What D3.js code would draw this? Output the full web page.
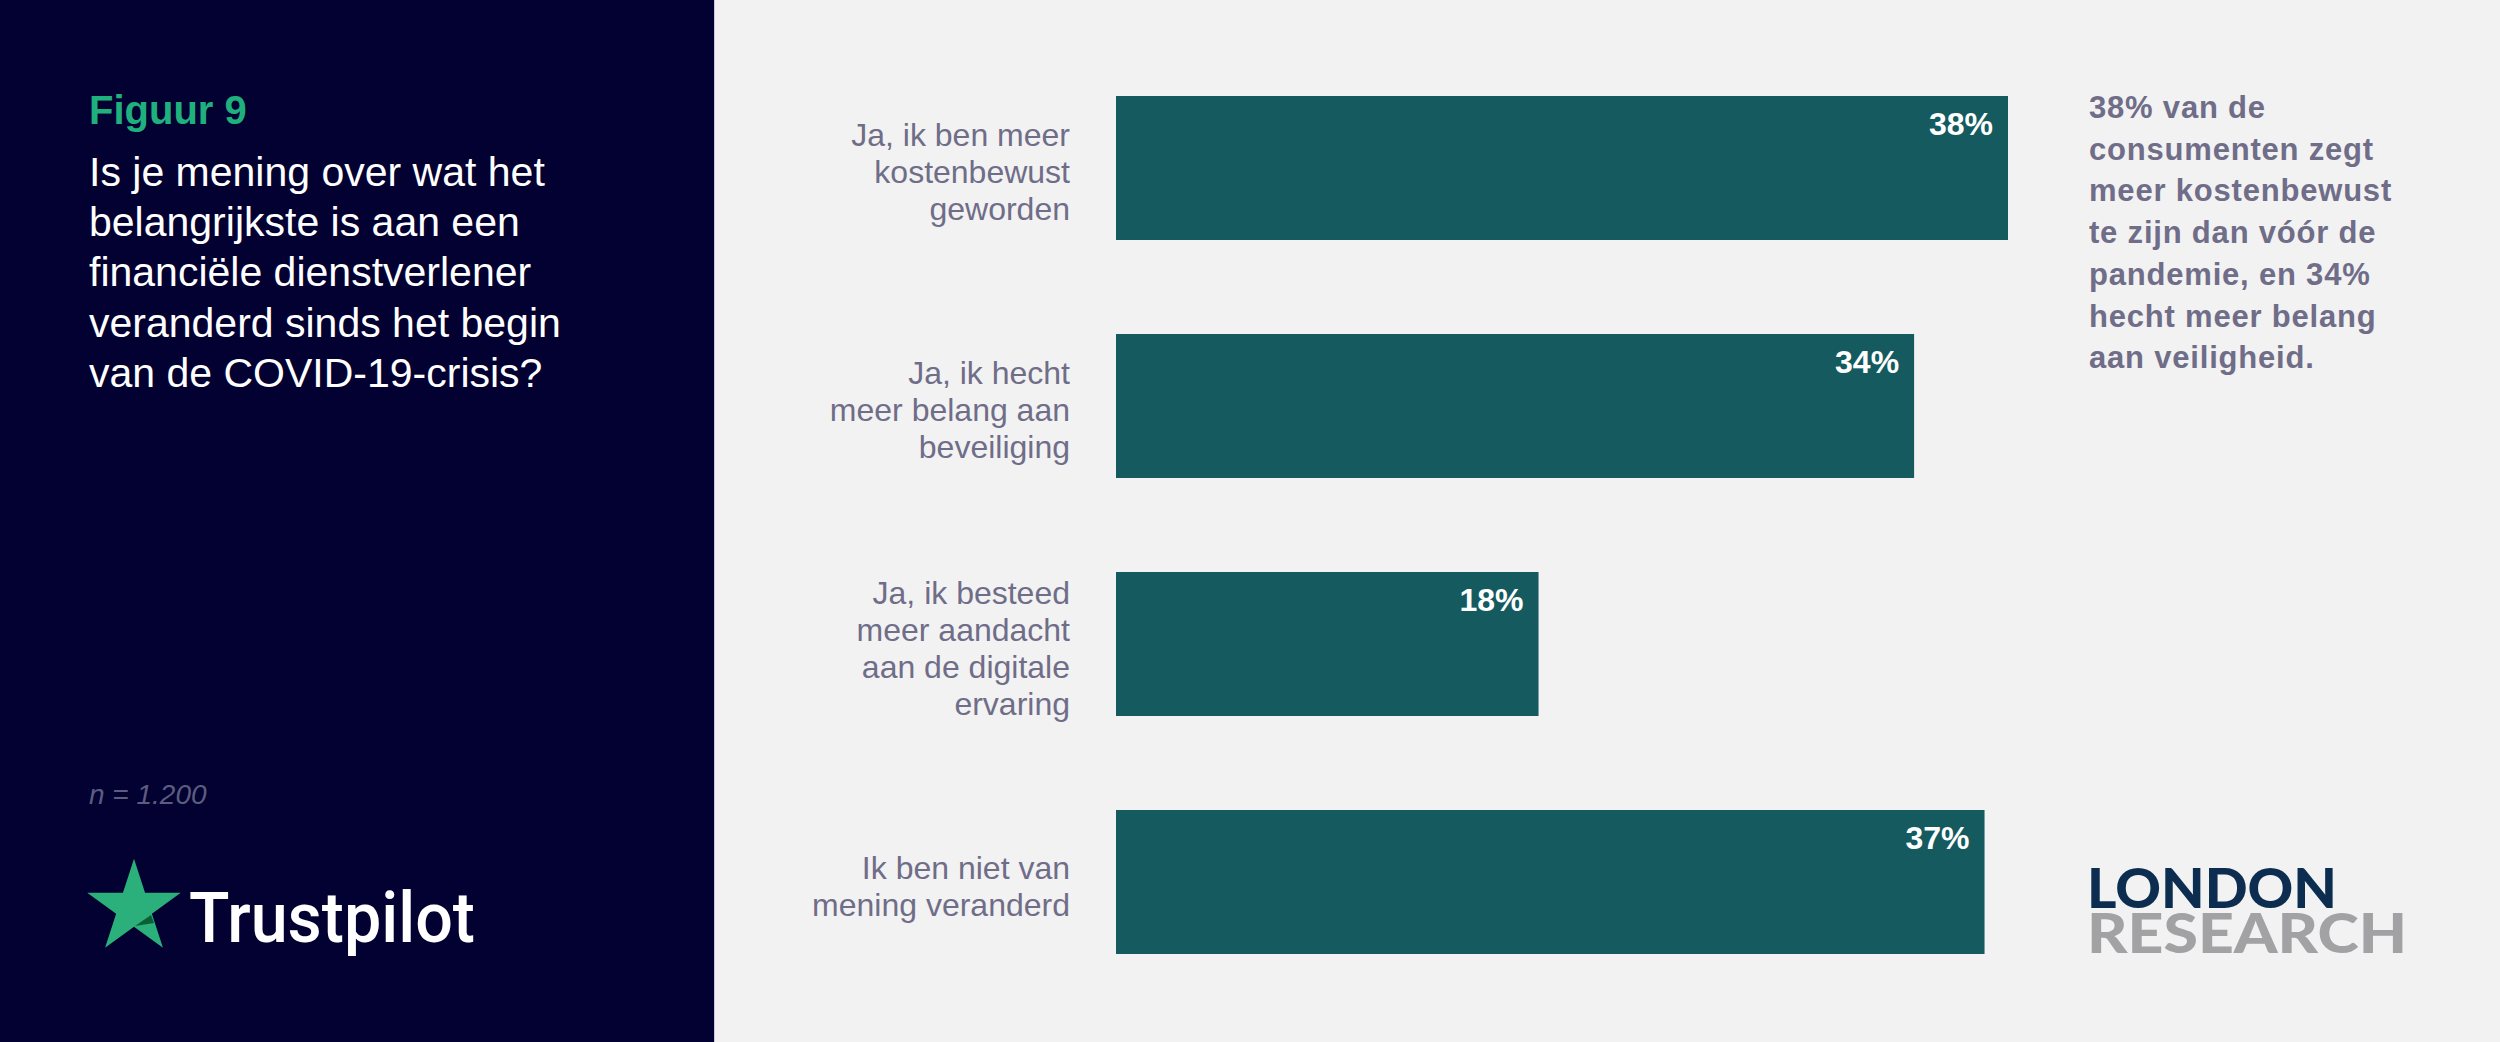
<!DOCTYPE html>
<html>
<head>
<meta charset="utf-8">
<script src="https://cdn.jsdelivr.net/npm/d3@7"></script>
<style>
  html, body { margin: 0; padding: 0; background: #f2f2f2; }
  svg { display: block; }
</style>
</head>
<body>
<div id="chart"></div>
<script>
// ---- Data ----
const categories = [
  "Ja, ik ben meer\nkostenbewust\ngeworden",
  "Ja, ik hecht\nmeer belang aan\nbeveiliging",
  "Ja, ik besteed\nmeer aandacht\naan de digitale\nervaring",
  "Ik ben niet van\nmening veranderd"
];
const values = [38, 34, 18, 37];
const valueLabels = ["38%", "34%", "18%", "37%"];

const figureTitle = "Figuur 9";
const questionLines = [
  "Is je mening over wat het",
  "belangrijkste is aan een",
  "financiële dienstverlener",
  "veranderd sinds het begin",
  "van de COVID-19-crisis?"
];
const sampleText = "n = 1.200";
const calloutLines = [
  "38% van de",
  "consumenten zegt",
  "meer kostenbewust",
  "te zijn dan vóór de",
  "pandemie, en 34%",
  "hecht meer belang",
  "aan veiligheid."
];

// ---- Layout ----
const W = 2500, H = 1042;
const svg = d3.select("#chart").append("svg")
  .attr("width", W).attr("height", H);

svg.append("rect").attr("x", 0).attr("y", 0).attr("width", W).attr("height", H).attr("fill", "#f2f2f2");
svg.append("rect").attr("x", 0).attr("y", 0).attr("width", 714).attr("height", H).attr("fill", "#020131");
svg.append("line").attr("x1", 714.5).attr("x2", 714.5).attr("y1", 0).attr("y2", H)
  .attr("stroke", "#c9c9d8").attr("stroke-width", 1);

const x = d3.scaleLinear().domain([0, 38]).range([1116, 2008]);
const y = d3.scaleBand().domain(categories).range([96, 954]).paddingInner(0.395).paddingOuter(0);

const barColor = "#145a5f";
const labelColor = "#6f6d88";
const font = "'Liberation Sans', Arial, Helvetica, sans-serif";

const g = svg.append("g");
g.selectAll("rect.bar").data(categories).join("rect")
  .attr("class", "bar")
  .attr("x", x(0))
  .attr("y", d => y(d))
  .attr("width", (d, i) => x(values[i]) - x(0))
  .attr("height", y.bandwidth())
  .attr("fill", barColor);

// value labels
g.selectAll("text.val").data(categories).join("text")
  .attr("class", "val")
  .attr("x", (d, i) => x(values[i]) - 15)
  .attr("y", d => y(d) + 39)
  .attr("text-anchor", "end")
  .attr("fill", "#ffffff")
  .attr("font-family", font)
  .attr("font-weight", "bold")
  .attr("font-size", 32)
  .text((d, i) => valueLabels[i]);

// category labels
const lh = 37;
g.selectAll("text.cat").data(categories).join("text")
  .attr("class", "cat")
  .attr("text-anchor", "end")
  .attr("fill", labelColor)
  .attr("font-family", font)
  .attr("font-size", 32)
  .each(function(d) {
    const lines = d.split("\n");
    const cy = y(d) + y.bandwidth() / 2;
    const t = d3.select(this);
    lines.forEach((ln, i) => {
      t.append("tspan")
        .attr("x", 1070)
        .attr("y", cy + (i - (lines.length - 1) / 2) * lh + 15.5)
        .text(ln);
    });
  });

// ---- Left panel ----
svg.append("text")
  .attr("x", 89).attr("y", 124)
  .attr("fill", "#1fb07e")
  .attr("font-family", font).attr("font-weight", "bold").attr("font-size", 40)
  .text(figureTitle);

svg.append("g").selectAll("text").data(questionLines).join("text")
  .attr("x", 89)
  .attr("y", (d, i) => 186 + i * 50.2)
  .attr("fill", "#ffffff")
  .attr("font-family", font).attr("font-size", 41)
  .text(d => d);

svg.append("text")
  .attr("x", 89).attr("y", 804)
  .attr("fill", "#5d5c80")
  .attr("font-family", font).attr("font-style", "italic").attr("font-size", 28)
  .text(sampleText);

// Trustpilot star
const starCx = 134, starCy = 908, R = 49.2, r = R * 0.382;
const starPts = d3.range(10).map(i => {
  const a = -Math.PI / 2 + i * Math.PI / 5;
  const rad = i % 2 === 0 ? R : r;
  return [starCx + rad * Math.cos(a), starCy + rad * Math.sin(a)];
});
svg.append("polygon")
  .attr("points", starPts.map(p => p.join(",")).join(" "))
  .attr("fill", "#2bb07b");
svg.append("polygon")
  .attr("points", "135,926 151,915 154,923")
  .attr("fill", "#0a5f34");

svg.append("text")
  .attr("x", 189).attr("y", 942)
  .attr("fill", "#ffffff")
  .attr("font-family", "Roboto, 'Liberation Sans', Arial, sans-serif")
  .attr("font-weight", 500).attr("font-size", 70)
  .attr("textLength", 286).attr("lengthAdjust", "spacingAndGlyphs")
  .text("Trustpilot");

// ---- Right callout ----
svg.append("g").selectAll("text").data(calloutLines).join("text")
  .attr("x", 2089)
  .attr("y", (d, i) => 118 + i * 41.7)
  .attr("fill", labelColor)
  .attr("font-family", font).attr("font-weight", "bold").attr("font-size", 31)
  .attr("letter-spacing", 0.8)
  .text(d => d);

// London Research logo
svg.append("text")
  .attr("x", 2087).attr("y", 908)
  .attr("fill", "#0c2d4f")
  .attr("font-family", "Lato, Inter, sans-serif").attr("font-weight", 900).attr("font-size", 56)
  .attr("textLength", 250).attr("lengthAdjust", "spacingAndGlyphs")
  .text("LONDON");
svg.append("text")
  .attr("x", 2087).attr("y", 953)
  .attr("fill", "#a2a2a4")
  .attr("font-family", "Lato, Inter, sans-serif").attr("font-weight", 900).attr("font-size", 56)
  .attr("textLength", 320).attr("lengthAdjust", "spacingAndGlyphs")
  .text("RESEARCH");
</script>
</body>
</html>
